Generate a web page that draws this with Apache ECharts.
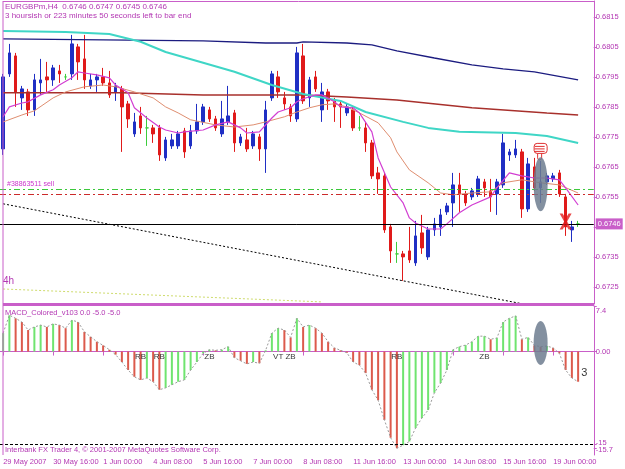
<!DOCTYPE html>
<html>
<head>
<meta charset="utf-8">
<title>EURGBPm,H4</title>
<script src="https://cdn.jsdelivr.net/npm/echarts@6.0.0/dist/echarts.min.js"></script>
<style>
	html, body {margin: 0; padding: 0; background: #fff;}
	#main {width: 625px; height: 469px;}
</style>
</head>
<body>
<div id="main"></div>
<script type="text/javascript">
// 4h bars, [open, close, low, high]
var candles = [
	[0.6771, 0.6795, 0.6769, 0.6796], [0.6796, 0.6803, 0.6795, 0.6806], [0.6802, 0.6790, 0.6785, 0.6803],
	[0.6788, 0.6791, 0.6784, 0.6792], [0.6790, 0.6784, 0.6782, 0.6791], [0.6784, 0.6794, 0.6782, 0.6796],
	[0.6793, 0.6794, 0.6789, 0.6801], [0.6795, 0.6794, 0.6790, 0.6800], [0.6794, 0.6798, 0.6792, 0.6799],
	[0.6797, 0.6796, 0.6793, 0.6799], [0.6795, 0.6795, 0.6794, 0.6796], [0.6796, 0.6806, 0.6794, 0.6809],
	[0.6805, 0.6800, 0.6794, 0.6806], [0.6801, 0.6794, 0.6791, 0.6809], [0.6792, 0.6794, 0.6791, 0.6796],
	[0.6794, 0.6795, 0.6790, 0.6796], [0.6795, 0.6793, 0.6792, 0.6798], [0.6793, 0.6789, 0.6788, 0.6797],
	[0.6790, 0.6792, 0.6787, 0.6793], [0.6791, 0.6785, 0.6770, 0.6792], [0.6786, 0.6781, 0.6778, 0.6787],
	[0.6776, 0.6780, 0.6775, 0.6783], [0.6782, 0.6778, 0.6776, 0.6785], [0.6778, 0.6778, 0.6772, 0.6782],
	[0.6778, 0.6776, 0.6773, 0.6779], [0.6778, 0.6769, 0.6767, 0.6779], [0.6768, 0.6774, 0.6767, 0.6775],
	[0.6772, 0.6774, 0.6771, 0.6776], [0.6772, 0.6776, 0.6771, 0.6777], [0.6777, 0.6770, 0.6768, 0.6778],
	[0.6772, 0.6777, 0.6771, 0.6779], [0.6777, 0.6780, 0.6776, 0.6786], [0.6780, 0.6785, 0.6779, 0.6786],
	[0.6784, 0.6781, 0.6780, 0.6785], [0.6781, 0.6778, 0.6777, 0.6782], [0.6776, 0.6781, 0.6775, 0.6787],
	[0.6780, 0.6782, 0.6779, 0.6792], [0.6783, 0.6773, 0.6770, 0.6784], [0.6773, 0.6775, 0.6772, 0.6776],
	[0.6774, 0.6771, 0.6770, 0.6778], [0.6772, 0.6776, 0.6771, 0.6777], [0.6775, 0.6771, 0.6767, 0.6776],
	[0.6771, 0.6784, 0.6763, 0.6787], [0.6788, 0.6796, 0.6787, 0.6797], [0.6795, 0.6790, 0.6788, 0.6797],
	[0.6788, 0.6786, 0.6784, 0.6790], [0.6785, 0.6782, 0.6780, 0.6786], [0.6781, 0.6803, 0.6780, 0.6805],
	[0.6802, 0.6787, 0.6786, 0.6806], [0.6788, 0.6794, 0.6785, 0.6795], [0.6795, 0.6791, 0.6790, 0.6797],
	[0.6784, 0.6790, 0.6780, 0.6793], [0.6790, 0.6787, 0.6784, 0.6791], [0.6787, 0.6785, 0.6780, 0.6788],
	[0.6786, 0.6785, 0.6778, 0.6787], [0.6783, 0.6785, 0.6782, 0.6786], [0.6784, 0.6778, 0.6777, 0.6785],
	[0.6778, 0.6778, 0.6777, 0.6782], [0.6778, 0.6773, 0.6770, 0.6780], [0.6773, 0.6762, 0.6761, 0.6774],
	[0.6763, 0.6761, 0.6756, 0.6765], [0.6762, 0.6744, 0.6743, 0.6763], [0.6745, 0.6737, 0.6733, 0.6746],
	[0.6736, 0.6736, 0.6733, 0.6740], [0.6736, 0.6735, 0.6727, 0.6737], [0.6737, 0.6734, 0.6733, 0.6745],
	[0.6733, 0.6742, 0.6732, 0.6747], [0.6743, 0.6738, 0.6736, 0.6749], [0.6735, 0.6744, 0.6734, 0.6745],
	[0.6744, 0.6746, 0.6742, 0.6748], [0.6745, 0.6749, 0.6742, 0.6751], [0.6750, 0.6752, 0.6749, 0.6753],
	[0.6753, 0.6759, 0.6745, 0.6763], [0.6759, 0.6756, 0.6750, 0.6763], [0.6756, 0.6753, 0.6752, 0.6757],
	[0.6755, 0.6757, 0.6754, 0.6758], [0.6756, 0.6761, 0.6755, 0.6762], [0.6760, 0.6758, 0.6755, 0.6761],
	[0.6757, 0.6755, 0.6750, 0.6761], [0.6756, 0.6760, 0.6749, 0.6761], [0.6759, 0.6773, 0.6758, 0.6776],
	[0.6769, 0.6770, 0.6767, 0.6771], [0.6769, 0.6771, 0.6768, 0.6774], [0.6770, 0.6751, 0.6748, 0.6771],
	[0.6751, 0.6766, 0.6750, 0.6768], [0.6765, 0.6758, 0.6757, 0.6768], [0.6758, 0.6760, 0.6753, 0.6767],
	[0.6760, 0.6762, 0.6759, 0.6763], [0.6761, 0.6762, 0.6760, 0.6763], [0.6763, 0.6756, 0.6755, 0.6764],
	[0.6755, 0.6745, 0.6742, 0.6756], [0.6744, 0.6745, 0.6740, 0.6747], [0.6746, 0.6746, 0.6745, 0.6747]
];

// moving averages, [bar, price] read where each line bends
var maNavy = [[0, 0.68077], [32, 0.68070], [42, 0.68063], [47, 0.68063], [48, 0.68067], [55, 0.68063],
	[59, 0.68057], [63, 0.68037], [69, 0.68013], [75, 0.67990], [80, 0.67977], [85, 0.67967], [92, 0.67940]];
var maBrown = [[0, 0.67897], [19, 0.67897], [32, 0.67890], [48, 0.67890], [55, 0.67883], [63, 0.67873],
	[75, 0.67847], [87, 0.67830], [92, 0.67823]];
var maCyan = [[0, 0.68103], [10, 0.68100], [17, 0.68093], [22, 0.68067], [26, 0.68033], [32, 0.67997],
	[37, 0.67967], [43, 0.67923], [48, 0.67893], [54, 0.67870], [58, 0.67833], [64, 0.67800], [68, 0.67780],
	[73, 0.67767], [82, 0.67763], [87, 0.67753], [92, 0.67730]];
var maSalmon = [[0, 0.67800], [3, 0.67823], [5, 0.67837], [8, 0.67880], [10, 0.67900], [13, 0.67917],
	[16, 0.67923], [18, 0.67917], [21, 0.67900], [24, 0.67880], [26, 0.67850], [28, 0.67830], [30, 0.67807],
	[34, 0.67790], [37, 0.67783], [40, 0.67790], [42, 0.67800], [45, 0.67817], [47, 0.67833], [49, 0.67847],
	[51, 0.67857], [53, 0.67860], [55, 0.67850], [57, 0.67830], [60, 0.67797], [62, 0.67747], [63, 0.67700],
	[65, 0.67640], [68, 0.67597], [70, 0.67563], [72, 0.67557], [75, 0.67563], [78, 0.67567], [80, 0.67597],
	[83, 0.67607], [86, 0.67597], [89, 0.67590], [92, 0.67563]];
var maMagenta = [[0, 0.67817], [1, 0.67850], [3, 0.67863], [4, 0.67867], [6, 0.67890], [8, 0.67907],
	[9, 0.67923], [11, 0.67947], [12, 0.67967], [13, 0.67963], [15, 0.67957], [17, 0.67947], [18, 0.67923],
	[20, 0.67897], [21, 0.67847], [23, 0.67813], [25, 0.67783], [26, 0.67773], [28, 0.67763], [29, 0.67767],
	[32, 0.67773], [34, 0.67790], [36, 0.67800], [38, 0.67780], [39, 0.67763], [41, 0.67767], [43, 0.67813],
	[44, 0.67833], [46, 0.67847], [47, 0.67867], [48, 0.67877], [50, 0.67890], [51, 0.67890], [53, 0.67867],
	[54, 0.67850], [56, 0.67847], [57, 0.67830], [59, 0.67767], [60, 0.67680], [62, 0.67583], [64, 0.67530],
	[65, 0.67480], [66, 0.67463], [68, 0.67443], [70, 0.67443], [71, 0.67460], [73, 0.67497], [75, 0.67523],
	[78, 0.67550], [79, 0.67580], [81, 0.67630], [83, 0.67620], [85, 0.67613], [87, 0.67613], [89, 0.67607],
	[90, 0.67580], [92, 0.67523]];
var trendLine = [[0, 0.67527], [84, 0.67190]];
var yellowLine = [[0, 0.67243], [51, 0.67200]];

var orderOpen = 0.67577;
var orderStop = 0.67560;
var bid = 0.6746;
var closeMark = [[90, 0.67468]];
var priceTicks = [0.6725, 0.6735, 0.6745, 0.6755, 0.6765, 0.6775, 0.6785, 0.6795, 0.6805, 0.6815];

var macd = [3.0, 5.9, 5.4, 4.8, 3.5, 4.0, 4.3, 4.0, 4.5, 4.3, 3.8, 5.1, 4.8, 3.2, 2.4, 1.6, 1.0, 0.3, -0.5, -1.7,
	-3.0, -4.1, -4.6, -4.3, -4.9, -6.2, -5.9, -5.4, -4.9, -4.6, -3.0, -1.7, -0.3, 0.3, 0.2, 0.3, 0.8, -1.0, -1.5, -2.0,
	-1.7, -1.9, 0.2, 3.0, 3.8, 3.5, 2.3, 5.4, 4.0, 4.3, 3.8, 3.0, 1.6, 0.6, 0.2, -0.2, -1.7, -2.2, -3.5, -6.2,
	-7.9, -11.1, -14.0, -15.7, -15.2, -14.6, -12.4, -10.8, -9.5, -6.7, -5.1, -3.0, 0.3, 0.8, 1.05, 1.6, 2.5, 2.5, 2.0, 2.2,
	4.8, 5.4, 5.8, 2.0, 2.3, 1.0, 0.8, 0.9, 0.6, -0.3, -3.0, -4.3, -4.9];
var macdTicks = [7.4, 0, -15];
var macdTickLabels = ['{top|7.4}', '0.00', '{up|-15}'];
var macdMinTick = [-15.7];
var macdLevel = -15;
var signalText = ['RB', 'RB', 'ZB', 'VT ZB', 'RB', 'ZB'];
var signalBars = [22, 25, 33, 45, 63, 77];

var tickBars = [0, 8, 16, 24, 32, 40, 48, 56, 64, 72, 80, 88];
var timeLabels = ['29 May 2007', '30 May 16:00', '1 Jun 00:00', '4 Jun 08:00', '5 Jun 16:00', '7 Jun 00:00',
	'8 Jun 08:00', '11 Jun 16:00', '13 Jun 00:00', '14 Jun 08:00', '15 Jun 16:00', '19 Jun 00:00'];

var FRAME = '#c95ec9';
var TXT = '#b337b3';
var FONT = 'Liberation Sans';

var slots = [];
for (var i = 0; i < 95; i++) slots.push(i);

var macdBars = macd.map(function(v, k) {
	var up = k === 0 || v >= macd[k - 1];
	return {value: v, itemStyle: {color: up ? '#6fe46f' : '#dc5a4c'}};
});
var signals = signalBars.map(function(b, k) { return [b, -0.9, signalText[k]]; });
var last = candles[candles.length - 1];
var title = 'EURGBPm,H4  ' + [last[0], last[3], last[2], last[1]].map(function(v){ return v.toFixed(4); }).join(' ');

function maLine(data, color, width) {
	return {
		type: 'line', xAxisIndex: 0, yAxisIndex: 0, data: data, symbol: 'none', z: 4,
		lineStyle: {color: color, width: width}
	};
}

var chart = echarts.init(document.getElementById('main'));
var option = {
	animation: false,
	backgroundColor: '#fff',
	textStyle: {fontFamily: FONT},
	grid: [
		{left: 0, top: 1, width: 593.75, height: 303},
		{left: 0, top: 306, width: 593.75, height: 149}
	],
	xAxis: [
		{type: 'category', gridIndex: 0, data: slots, boundaryGap: true,
			axisLine: {show: false}, axisTick: {show: false}, axisLabel: {show: false}, splitLine: {show: false}},
		{type: 'category', gridIndex: 1, data: slots, boundaryGap: true,
			axisLine: {show: true, lineStyle: {color: FRAME}},
			axisTick: {show: true, alignWithLabel: true, length: 4, lineStyle: {color: FRAME},
				interval: function(idx) { return tickBars.indexOf(idx) >= 0; }},
			axisLabel: {color: TXT, fontSize: 7.5, align: 'left', margin: 3,
				interval: function(idx) { return tickBars.indexOf(idx) >= 0; },
				formatter: function(v, idx) { var k = tickBars.indexOf(idx); return k >= 0 ? timeLabels[k] : ''; }},
			splitLine: {show: false}}
	],
	yAxis: [
		{type: 'value', gridIndex: 0, position: 'right', min: 0.67193, max: 0.68203,
			splitLine: {show: false},
			axisLine: {show: true, lineStyle: {color: FRAME}},
			axisTick: {show: true, length: 3, lineStyle: {color: FRAME}, customValues: priceTicks},
			axisLabel: {color: TXT, fontSize: 7.5, margin: 2, customValues: priceTicks, hideOverlap: false,
				formatter: function(v) { return v.toFixed(4); }}},
		{type: 'value', gridIndex: 1, position: 'right', min: -16.8, max: 7.4,
			splitLine: {show: false},
			axisLine: {show: true, lineStyle: {color: FRAME}},
			axisTick: {show: true, length: 3, lineStyle: {color: FRAME}, customValues: macdTicks},
			axisLabel: {color: TXT, fontSize: 7.5, margin: 2, customValues: macdTicks, hideOverlap: false,
				rich: {
					top: {fontSize: 7.5, color: TXT, padding: [10, 0, 0, 0]},
					up: {fontSize: 7.5, color: TXT, padding: [0, 0, 1, 0]}
				},
				formatter: function(v) {
					for (var k = 0; k < macdTicks.length; k++) if (Math.abs(macdTicks[k] - v) < 1e-6) return macdTickLabels[k];
					return '';
				}}},
		{type: 'value', gridIndex: 1, position: 'right', min: -16.8, max: 7.4,
			splitLine: {show: false}, axisLine: {show: false},
			axisTick: {show: true, length: 3, lineStyle: {color: FRAME}, customValues: macdMinTick},
			axisLabel: {color: TXT, fontSize: 7.5, margin: 2, customValues: macdMinTick,
				rich: {down: {fontSize: 7.5, color: TXT, padding: [3, 0, 0, 0]}},
				formatter: function(v) { return '{down|' + v.toFixed(1) + '}'; }}}
	],
	series: [
		{
			type: 'candlestick', xAxisIndex: 0, yAxisIndex: 0, data: candles, barWidth: 3, z: 2,
			itemStyle: {color: '#1f2fc4', color0: '#e01a1a', borderColor: '#1f2fc4', borderColor0: '#e01a1a',
				borderColorDoji: '#3ccc3c', borderWidth: 1}
		},
		maLine(maNavy, '#1c1c80', 1.3),
		maLine(maBrown, '#a8302c', 1.5),
		maLine(maCyan, '#3fd6c6', 2),
		maLine(maSalmon, '#df8e70', 1),
		maLine(maMagenta, '#d23ed2', 1.2),
		{
			type: 'line', xAxisIndex: 0, yAxisIndex: 0, data: trendLine, symbol: 'none', z: 3,
			lineStyle: {color: '#000', width: 1, type: [2, 2]},
			markLine: {
				silent: true, symbol: ['none', 'none'], precision: 6,
				data: [
					{yAxis: orderOpen, lineStyle: {color: '#3cc83c', width: 1, type: [6, 3, 2, 3]}, label: {show: false}},
					{yAxis: orderStop, lineStyle: {color: '#cc2a2a', width: 1, type: [6, 3, 2, 3]}, label: {show: false}},
					{yAxis: bid, lineStyle: {color: '#000', width: 1, type: 'solid'},
						label: {show: true, position: 'end', distance: 2, formatter: bid.toFixed(4), color: '#fff',
							backgroundColor: FRAME, padding: [2, 2, 1, 2], fontSize: 7.5}}
				]
			}
		},
		{type: 'line', xAxisIndex: 0, yAxisIndex: 0, data: yellowLine, symbol: 'none', z: 3,
			lineStyle: {color: '#cfdc6e', width: 1, type: [2, 2]}},
		{type: 'scatter', xAxisIndex: 0, yAxisIndex: 0, data: closeMark, z: 6,
			symbol: 'path://M0,0 L3,0 L6,5 L9,0 L12,0 L7.5,8 L12,16 L9,16 L6,11 L3,16 L0,16 L4.5,8 Z',
			symbolSize: [12, 16], itemStyle: {color: '#e41c1c'}},
		{
			type: 'bar', xAxisIndex: 1, yAxisIndex: 1, data: macdBars, barWidth: 2,
			markLine: {silent: true, symbol: ['none', 'none'], label: {show: false}, precision: 4,
				lineStyle: {color: '#000', width: 1, type: [3, 2]}, data: [{yAxis: macdLevel}]}
		},
		{type: 'line', xAxisIndex: 1, yAxisIndex: 1, data: macd, symbol: 'none', z: 3,
			lineStyle: {color: '#9a9a9a', width: 1, type: [2, 2]}},
		{type: 'scatter', xAxisIndex: 1, yAxisIndex: 1, data: signals, symbolSize: 0, z: 5,
			label: {show: true, position: 'inside', color: '#000', fontSize: 8,
				formatter: function(p) { return p.data[2]; }}},
		{type: 'scatter', xAxisIndex: 1, yAxisIndex: 1, data: [[93, -3.5]], symbolSize: 0, z: 5,
			label: {show: true, position: 'inside', color: '#000', fontSize: 11, formatter: '3'}}
	]
};
chart.setOption(option);

// annotations pinned to data coordinates
var ell1 = chart.convertToPixel({xAxisIndex: 0, yAxisIndex: 0}, [86, 0.67592]);
var ell2 = chart.convertToPixel({xAxisIndex: 1, yAxisIndex: 1}, [86, 1.4]);
var hand = chart.convertToPixel({xAxisIndex: 0, yAxisIndex: 0}, [86, 0.67700]);
var orderTag = chart.convertToPixel({xAxisIndex: 0, yAxisIndex: 0}, [0, orderOpen]);

function label(x, y, text, size, color) {
	return {type: 'text', x: x, y: y, z: 20, silent: true,
		style: {text: text, fill: color, font: size + 'px "' + FONT + '"', align: 'left', verticalAlign: 'top'}};
}

var handStyle = {fill: '#fff', stroke: '#e03030', lineWidth: 1};
chart.setOption({
	graphic: [
		{type: 'line', silent: true, z: 10, shape: {x1: 3, y1: 1, x2: 3, y2: 455}, style: {stroke: FRAME, lineWidth: 1}},
		{type: 'line', silent: true, z: 10, shape: {x1: 3, y1: 1.5, x2: 594, y2: 1.5}, style: {stroke: FRAME, lineWidth: 1}},
		{type: 'rect', silent: true, z: 10, shape: {x: 3, y: 303, width: 591, height: 3}, style: {fill: FRAME}},
		{type: 'ellipse', silent: true, z: 8, shape: {cx: ell1[0], cy: ell1[1], rx: 7, ry: 27}, style: {fill: '#6d7d8f', opacity: 0.85}},
		{type: 'ellipse', silent: true, z: 8, shape: {cx: ell2[0], cy: ell2[1], rx: 7, ry: 22}, style: {fill: '#6d7d8f', opacity: 0.85}},
		{type: 'group', silent: true, z: 9, x: hand[0] - 7, y: hand[1] - 9, children: [
			{type: 'rect', shape: {x: 4, y: 8, width: 4, height: 9, r: 2}, style: handStyle},
			{type: 'rect', shape: {x: 0.5, y: 0.5, width: 13, height: 10, r: 3}, style: handStyle},
			{type: 'line', shape: {x1: 1, y1: 3.5, x2: 11, y2: 3.5}, style: {stroke: '#e03030', lineWidth: 1}},
			{type: 'line', shape: {x1: 1, y1: 6, x2: 11, y2: 6}, style: {stroke: '#e03030', lineWidth: 1}},
			{type: 'line', shape: {x1: 1, y1: 8.5, x2: 11, y2: 8.5}, style: {stroke: '#e03030', lineWidth: 1}}
		]},
		label(5, 3, title, 8, TXT),
		label(5, 12, '3 hoursish or 223 minutes 50 seconds left to bar end', 8, TXT),
		label(7, orderTag[1] - 8, '#38863511 sell', 7, '#cc33cc'),
		label(3, 276, '4h', 10, TXT),
		label(5, 309, 'MACD_Colored_v103 0.0 -5.0 -5.0', 7.5, TXT),
		label(5, 446, 'Interbank FX Trader 4, \u00a9 2001-2007 MetaQuotes Software Corp.', 7.5, TXT)
	]
});
</script>
</body>
</html>
